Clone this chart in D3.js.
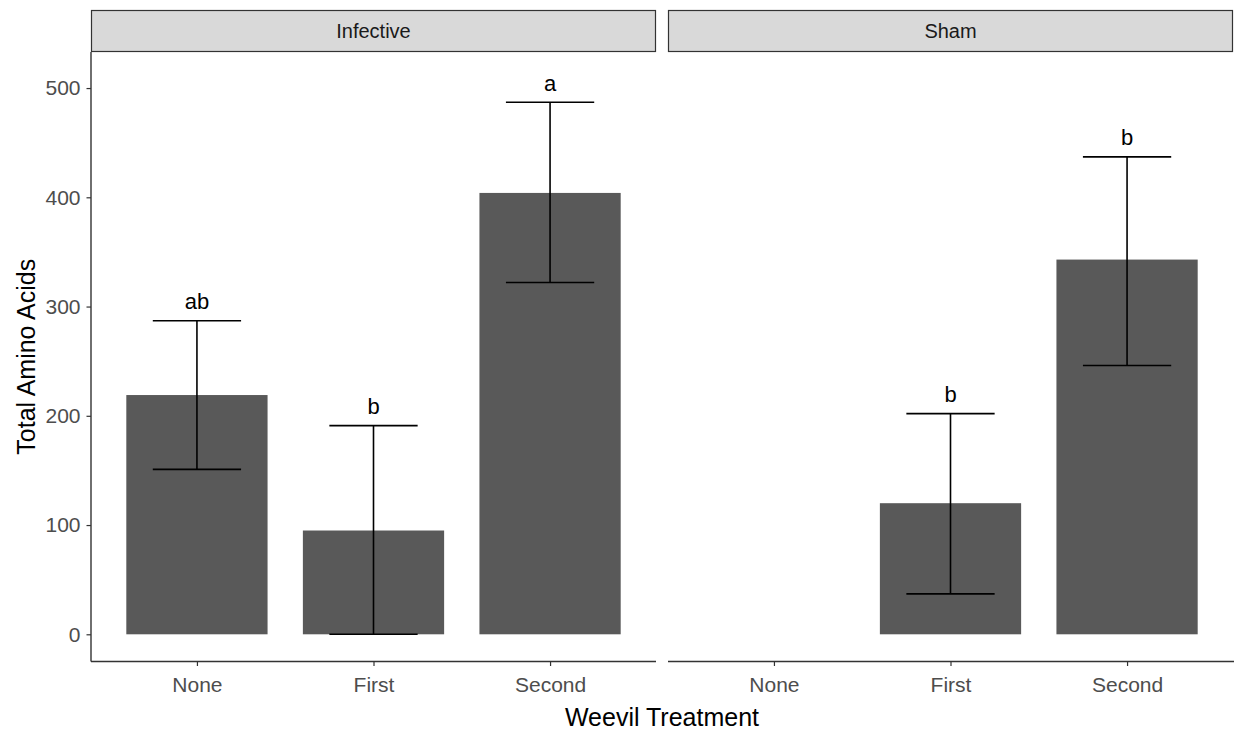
<!DOCTYPE html>
<html>
<head>
<meta charset="utf-8">
<script src="https://cdn.jsdelivr.net/npm/d3@7"></script>
<style>
  html, body { margin: 0; padding: 0; background: #fff; }
  svg { display: block; font-family: "Liberation Sans", Arial, sans-serif; }
</style>
</head>
<body>
<svg id="chart" width="1238" height="734"></svg>
<script>
// Weevil treatment levels (x categories) and facet panels
const treatments = ["None", "First", "Second"];
const facets = ["Infective", "Sham"];

// Mean total amino acids with lower / upper error limits, per facet
const infectiveMean  = [219, 95, 404];
const infectiveLower = [151, 0, 322];
const infectiveUpper = [287, 191, 487];
const shamMean  = [null, 120, 343];
const shamLower = [null, 37, 246];
const shamUpper = [null, 202, 437];

// Significance letters above the error bars
const infectiveLetters = ["ab", "b", "a"];
const shamLetters = [null, "b", "b"];

// Y axis ticks
const yTicks = [0, 100, 200, 300, 400, 500];

const panelData = [
  { facet: facets[0], mean: infectiveMean, lower: infectiveLower, upper: infectiveUpper, letters: infectiveLetters },
  { facet: facets[1], mean: shamMean, lower: shamLower, upper: shamUpper, letters: shamLetters }
];

const svg = d3.select("#chart");

// Layout
const panelTop = 52, panelBottom = 661.5;
const stripTop = 10;
const panels = [ { x0: 91, x1: 656 }, { x0: 668, x1: 1233 } ];

const y = d3.scaleLinear().domain([-24.9, 533]).range([panelBottom, panelTop]);

const barFill = "#595959";
const axisCol = "#333333";
const tickTextCol = "#4D4D4D";
const tickFont = 21;

panels.forEach((p, i) => {
  const d = panelData[i];
  const g = svg.append("g");

  // discrete x positions with 0.6 unit expansion on each side
  const x = d3.scalePoint().domain(treatments).range([p.x0, p.x1]).padding(0.6);
  const step = x.step();
  const barW = step * 0.8;
  const capHalf = step * 0.25;

  // strip
  g.append("rect")
    .attr("x", p.x0 + 0.5).attr("y", stripTop + 0.5)
    .attr("width", p.x1 - p.x0 - 1).attr("height", panelTop - stripTop - 1)
    .attr("fill", "#D9D9D9").attr("stroke", axisCol).attr("stroke-width", 1.2);
  g.append("text")
    .attr("x", (p.x0 + p.x1) / 2).attr("y", (stripTop + panelTop) / 2)
    .attr("text-anchor", "middle").attr("dominant-baseline", "central")
    .attr("font-size", 20).attr("fill", "#1A1A1A")
    .text(d.facet);

  // bars
  treatments.forEach((t, k) => {
    if (d.mean[k] == null) return;
    g.append("rect")
      .attr("x", x(t) - barW / 2).attr("width", barW)
      .attr("y", y(d.mean[k])).attr("height", y(0) - y(d.mean[k]))
      .attr("fill", barFill);
  });

  // error bars
  treatments.forEach((t, k) => {
    if (d.mean[k] == null) return;
    const cx = x(t);
    const eb = g.append("g").attr("stroke", "#000").attr("stroke-width", 1.6).attr("fill", "none");
    eb.append("line").attr("x1", cx).attr("x2", cx).attr("y1", y(d.lower[k])).attr("y2", y(d.upper[k]));
    eb.append("line").attr("x1", cx - capHalf).attr("x2", cx + capHalf).attr("y1", y(d.upper[k])).attr("y2", y(d.upper[k]));
    eb.append("line").attr("x1", cx - capHalf).attr("x2", cx + capHalf).attr("y1", y(d.lower[k])).attr("y2", y(d.lower[k]));
  });

  // letters
  treatments.forEach((t, k) => {
    if (!d.letters[k]) return;
    g.append("text")
      .attr("x", x(t)).attr("y", y(d.upper[k]) - 11.5)
      .attr("text-anchor", "middle")
      .attr("font-size", 22).attr("fill", "#000")
      .text(d.letters[k]);
  });

  // x axis
  const xAxis = d3.axisBottom(x).tickSize(4.5).tickPadding(11);
  const xg = g.append("g").attr("transform", `translate(0,${panelBottom})`).call(xAxis);
  xg.select(".domain").attr("stroke", axisCol).attr("stroke-width", 1.4)
    .attr("d", `M${p.x0},0H${p.x1 + (i === 1 ? 1 : 0)}`);
  xg.selectAll(".tick line").attr("stroke", axisCol).attr("stroke-width", 1.2);
  xg.selectAll(".tick text").attr("fill", tickTextCol).attr("font-size", tickFont)
    .attr("font-family", "'Liberation Sans', Arial, sans-serif");

  // y axis only on the first panel
  if (i === 0) {
    const yAxis = d3.axisLeft(y).tickValues(yTicks).tickSize(4.5).tickPadding(6);
    const yg = g.append("g").attr("transform", `translate(${p.x0},0)`).call(yAxis);
    yg.select(".domain").attr("stroke", axisCol).attr("stroke-width", 1.4)
      .attr("d", `M0,${panelTop}V${panelBottom}`);
    yg.selectAll(".tick line").attr("stroke", axisCol).attr("stroke-width", 1.2);
    yg.selectAll(".tick text").attr("fill", tickTextCol).attr("font-size", tickFont)
      .attr("font-family", "'Liberation Sans', Arial, sans-serif");
  }
});

// axis titles
svg.append("text")
  .attr("x", (panels[0].x0 + panels[1].x1) / 2).attr("y", 726)
  .attr("text-anchor", "middle")
  .attr("font-size", 25).attr("fill", "#000")
  .text("Weevil Treatment");

svg.append("text")
  .attr("transform", `translate(35,${(panelTop + panelBottom) / 2}) rotate(-90)`)
  .attr("text-anchor", "middle")
  .attr("font-size", 25).attr("fill", "#000")
  .text("Total Amino Acids");
</script>
</body>
</html>
